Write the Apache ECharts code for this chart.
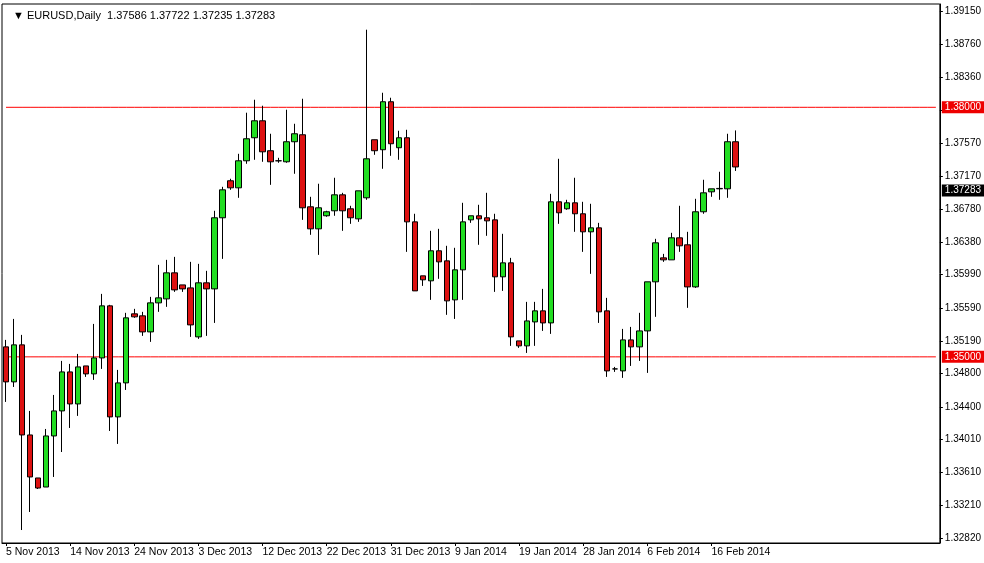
<!DOCTYPE html>
<html><head><meta charset="utf-8">
<script src="https://cdn.jsdelivr.net/npm/echarts@6/dist/echarts.min.js"></script>
<style>html,body{margin:0;padding:0;background:#fff}#c{width:984px;height:563px}</style>
</head><body><div id="c"></div>
<script>
const title = '\u25BC EURUSD,Daily  1.37586 1.37722 1.37235 1.37283';
const opens  = [1.35120,1.34699,1.35144,1.34061,1.33544,1.33435,1.34049,1.34350,1.34819,1.34434,1.34891,1.34795,1.34987,1.35613,1.34278,1.34687,1.35517,1.35493,1.35300,1.35649,1.35697,1.36010,1.35865,1.35829,1.35240,1.35890,1.35817,1.36672,1.37117,1.37032,1.37357,1.37634,1.37838,1.37478,1.37357,1.37345,1.37586,1.37670,1.36804,1.36539,1.36696,1.36756,1.36948,1.36780,1.36659,1.36912,1.37610,1.37490,1.38067,1.37514,1.37634,1.36623,1.35974,1.35914,1.36275,1.36154,1.35685,1.36046,1.36647,1.36696,1.36672,1.36647,1.35962,1.36130,1.35192,1.35132,1.35420,1.35553,1.35408,1.36864,1.36780,1.36852,1.36720,1.36503,1.36551,1.35553,1.34855,1.34831,1.35204,1.35120,1.35312,1.35902,1.36190,1.36166,1.36431,1.36347,1.35841,1.36744,1.36984,1.37020,1.37020,1.37586];
const closes = [1.34699,1.35144,1.34061,1.33556,1.33423,1.34049,1.34350,1.34819,1.34434,1.34879,1.34795,1.34987,1.35613,1.34278,1.34687,1.35469,1.35481,1.35300,1.35649,1.35709,1.36010,1.35805,1.35817,1.35384,1.35890,1.35817,1.36672,1.37008,1.37032,1.37357,1.37622,1.37838,1.37465,1.37345,1.37357,1.37586,1.37682,1.36792,1.36539,1.36792,1.36744,1.36948,1.36756,1.36672,1.36996,1.37381,1.37478,1.38067,1.37562,1.37634,1.36623,1.35793,1.35926,1.36275,1.36142,1.35673,1.36046,1.36623,1.36696,1.36659,1.36635,1.35962,1.36130,1.35240,1.35132,1.35432,1.35553,1.35408,1.36864,1.36732,1.36852,1.36720,1.36503,1.36551,1.35541,1.34831,1.34855,1.35204,1.35120,1.35312,1.35902,1.36371,1.36166,1.36431,1.36335,1.35841,1.36744,1.36972,1.37020,1.37025,1.37586,1.37283];
const lows   = [1.34458,1.34638,1.32918,1.33135,1.33411,1.33435,1.33556,1.33856,1.34145,1.34290,1.34759,1.34723,1.34855,1.34109,1.33953,1.34602,1.35469,1.35252,1.35180,1.35541,1.35601,1.35781,1.35781,1.35240,1.35216,1.35252,1.35408,1.36178,1.37008,1.36912,1.37321,1.37369,1.37345,1.37068,1.37333,1.37333,1.37201,1.36647,1.36467,1.36226,1.36684,1.36696,1.36515,1.36599,1.36623,1.36888,1.37429,1.37261,1.37417,1.37369,1.36262,1.35793,1.35853,1.35685,1.35938,1.35505,1.35456,1.35685,1.36611,1.36347,1.36455,1.35781,1.35793,1.35132,1.35108,1.35047,1.35132,1.35312,1.35276,1.36599,1.36768,1.36503,1.36262,1.35998,1.35408,1.34759,1.34819,1.34747,1.34891,1.34951,1.34807,1.35481,1.36142,1.36166,1.36262,1.35589,1.35829,1.36720,1.36924,1.36888,1.36912,1.37235];
const highs  = [1.35204,1.35456,1.35264,1.34350,1.33544,1.34133,1.34542,1.34951,1.34915,1.35035,1.34891,1.35396,1.35757,1.35625,1.34843,1.35529,1.35577,1.35541,1.35721,1.36106,1.36166,1.36202,1.35865,1.36142,1.36118,1.36034,1.36756,1.37044,1.37141,1.37441,1.37935,1.38091,1.38019,1.37682,1.37393,1.37971,1.37802,1.38103,1.36924,1.37081,1.36756,1.37153,1.36972,1.36816,1.36996,1.38933,1.37610,1.38175,1.38115,1.37718,1.37730,1.36720,1.35974,1.36515,1.36539,1.36335,1.36311,1.36852,1.36696,1.36828,1.36972,1.36720,1.36479,1.36190,1.35192,1.35661,1.35661,1.35817,1.36960,1.37381,1.36888,1.37153,1.36864,1.36840,1.36611,1.35709,1.34879,1.35336,1.35360,1.35529,1.35902,1.36419,1.36238,1.36491,1.36816,1.36503,1.36900,1.37129,1.37020,1.37225,1.37682,1.37722];
const yTicks = [1.39150,1.38760,1.38360,1.37970,1.37570,1.37170,1.36780,1.36380,1.35990,1.35590,1.35190,1.34800,1.34400,1.34010,1.33610,1.33210,1.32820];
const levels = [1.38000, 1.35000];
const lastPrice = 1.37283;
const startDate = [2013, 10, 5];
const totalSlots = 117;

const months = ['Jan','Feb','Mar','Apr','May','Jun','Jul','Aug','Sep','Oct','Nov','Dec'];
const cats = [];
let d = new Date(Date.UTC(startDate[0], startDate[1], startDate[2]));
for (let i = 0; i < opens.length; i++) {
  cats.push(d.getUTCDate() + ' ' + months[d.getUTCMonth()] + ' ' + d.getUTCFullYear());
  do { d = new Date(d.getTime() + 86400000); } while (d.getUTCDay() === 6);
}
while (cats.length < totalSlots) cats.push('');
const data = opens.map((o, i) => [o, closes[i], lows[i], highs[i]]);

const chart = echarts.init(document.getElementById('c'));
const F = 'Liberation Sans, Arial, sans-serif';
const lbl = (txt, bg) => ({ show: true, position: 'end', formatter: txt, color: '#fff', backgroundColor: bg, padding: [1, 3], fontSize: 10, fontFamily: F, distance: 2 });
const levelSeries = levels.map(v => ({
  type: 'line', data: cats.map(() => v), showSymbol: false, silent: true, z: 1,
  lineStyle: { color: '#ff0000', width: 1 }, itemStyle: { color: '#ff0000' }
}));
chart.setOption({
  animation: false,
  backgroundColor: '#fff',
  title: { text: title, left: 8, top: 5, textStyle: { fontSize: 11, fontWeight: 'normal', color: '#000', fontFamily: F } },
  grid: { left: 2, right: 44, top: 4, bottom: 20, show: true, borderColor: '#000', borderWidth: 1 },
  xAxis: {
    type: 'category', data: cats, boundaryGap: true,
    axisLine: { lineStyle: { color: '#000' } },
    axisTick: { show: true, alignWithLabel: true, interval: (i) => i % 8 === 0 && i < opens.length, lineStyle: { color: '#000' }, length: 3 },
    axisLabel: { interval: (i) => i % 8 === 0 && i < opens.length, color: '#000', fontSize: 10.5, fontFamily: F, align: 'left', margin: 4 },
    splitLine: { show: false }
  },
  yAxis: {
    type: 'value', position: 'right', min: 1.32762, max: 1.39242,
    axisLine: { show: true, lineStyle: { color: '#000' } },
    axisTick: { show: true, customValues: yTicks, length: 3, lineStyle: { color: '#000' } },
    axisLabel: { customValues: yTicks, formatter: v => v.toFixed(5), color: '#000', fontSize: 10, fontFamily: F, margin: 5 },
    splitLine: { show: false }
  },
  series: [...levelSeries, {
    type: 'candlestick', data: data, barWidth: 6, z: 3,
    itemStyle: { color: '#22dd22', color0: '#dd1111', borderColor: '#000', borderColor0: '#000', borderWidth: 1 },
    markLine: {
      symbol: ['none', 'none'], silent: true,
      data: [
        { yAxis: levels[0], lineStyle: { width: 0 }, label: lbl(levels[0].toFixed(5), '#ee0000') },
        { yAxis: levels[1], lineStyle: { width: 0 }, label: lbl(levels[1].toFixed(5), '#ee0000') },
        { yAxis: lastPrice, lineStyle: { width: 0 }, label: lbl(lastPrice.toFixed(5), '#000') }
      ]
    }
  }]
});
</script></body></html>
